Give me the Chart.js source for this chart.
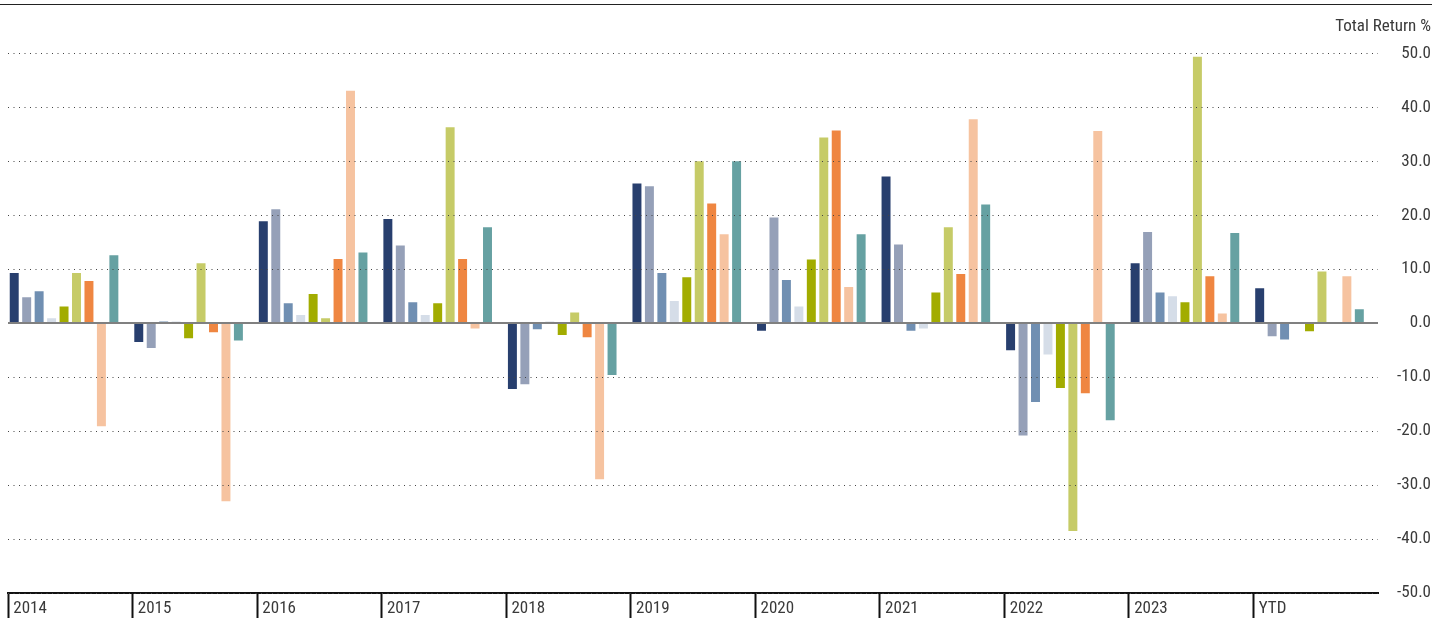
<!DOCTYPE html>
<html>
<head>
<meta charset="utf-8">
<script src="https://cdn.jsdelivr.net/npm/chart.js@4"></script>
<style>
    body { margin: 0; background: #fff; }
    #wrap { position: relative; width: 1447px; height: 618px; }
    #topRule { position: absolute; left: 0; top: 4px; width: 1432px; height: 1px; background: #222; }
    canvas { position: absolute; left: 0; top: 0; }
</style>
</head>
<body>
<div id="wrap">
    <div id="topRule"></div>
    <canvas id="mainChart" width="1447" height="618"></canvas>
</div>
<script>
    const categories = ['2014', '2015', '2016', '2017', '2018', '2019', '2020', '2021', '2022', '2023', 'YTD'];
    const yTicks = [-50, -40, -30, -20, -10, 0, 10, 20, 30, 40, 50];

    const navy   = [9.3, -3.5, 18.9, 19.3, -12.2, 25.9, -1.4, 27.2, -5.0, 11.1, 6.5];
    const slate  = [4.8, -4.6, 21.1, 14.4, -11.3, 25.4, 19.6, 14.6, -20.8, 16.9, -2.4];
    const steel  = [5.9, 0.3, 3.7, 3.9, -1.1, 9.3, 8.0, -1.4, -14.6, 5.7, -3.0];
    const mist   = [0.9, 0.3, 1.5, 1.5, 0.3, 4.1, 3.1, -1.0, -5.8, 5.0, -0.1];
    const olive  = [3.1, -2.8, 5.4, 3.7, -2.2, 8.5, 11.8, 5.7, -12.0, 3.9, -1.5];
    const lime   = [9.3, 11.1, 0.9, 36.3, 2.0, 30.0, 34.4, 17.8, -38.5, 49.4, 9.6];
    const orange = [7.8, -1.7, 11.9, 11.9, -2.6, 22.2, 35.7, 9.1, -13.0, 8.7, 0.1];
    const peach  = [-19.1, -33.0, 43.1, -1.0, -28.9, 16.5, 6.7, 37.8, 35.6, 1.8, 8.7];
    const teal   = [12.6, -3.2, 13.1, 17.8, -9.6, 30.0, 16.5, 22.0, -18.0, 16.7, 2.6];

    const series = [
        { data: navy,   color: '#283F6E' },
        { data: slate,  color: '#95A0B8' },
        { data: steel,  color: '#708FB2' },
        { data: mist,   color: '#D5DDE8' },
        { data: olive,  color: '#A2AC00' },
        { data: lime,   color: '#C6CB67' },
        { data: orange, color: '#EF8641' },
        { data: peach,  color: '#F6C3A0' },
        { data: teal,   color: '#66A1A2' }
    ];

    const FONT = "'Liberation Sans Narrow', 'Roboto Condensed', 'DejaVu Sans Condensed', sans-serif";

    // solid zero line drawn over the bars
    const zeroLine = {
        id: 'zeroLine',
        afterDatasetsDraw(chart) {
            const { ctx, chartArea, scales } = chart;
            const py = Math.round(scales.y.getPixelForValue(0));
            ctx.save();
            ctx.strokeStyle = '#808080';
            ctx.lineWidth = 2;
            ctx.beginPath();
            ctx.moveTo(chartArea.left, py);
            ctx.lineTo(chartArea.right, py);
            ctx.stroke();
            ctx.restore();
        }
    };

    const datasets = series.map((s, i) => ({
        label: 'Series ' + (i + 1),
        data: s.data,
        backgroundColor: s.color,
        borderWidth: 0,
        barPercentage: 0.72,
        categoryPercentage: 1
    }));
    // empty slot so each group sits at the left of its year
    datasets.push({ label: '', data: [], barPercentage: 0.72, categoryPercentage: 1 });

    new Chart(document.getElementById('mainChart').getContext('2d'), {
        type: 'bar',
        data: { labels: categories, datasets },
        plugins: [zeroLine],
        options: {
            responsive: false,
            animation: false,
            layout: { padding: { left: 8, right: 16, top: 0, bottom: 0 } },
            plugins: {
                legend: { display: false },
                tooltip: { enabled: false },
                title: {
                    display: true,
                    text: 'Total Return %',
                    align: 'end',
                    color: '#3a3a3a',
                    font: { family: FONT, size: 17, weight: 'normal' },
                    padding: { top: 17, bottom: 16 }
                }
            },
            scales: {
                x: {
                    position: 'bottom',
                    grid: {
                        offset: true,
                        drawOnChartArea: false,
                        drawTicks: true,
                        tickLength: 25,
                        tickWidth: 2,
                        tickColor: ctx => ctx.type === 'tick' ? '#111' : 'rgba(0,0,0,0)',
                        color: ctx => ctx.type === 'tick' ? '#111' : 'rgba(0,0,0,0)'
                    },
                    border: { display: true, color: '#111', width: 2 },
                    ticks: {
                        align: 'start',
                        labelOffset: -57,
                        padding: -19,
                        maxRotation: 0,
                        autoSkip: false,
                        color: '#3a3a3a',
                        font: { family: FONT, size: 17 }
                    },
                    afterFit(scale) {
                        scale.height = 25;
                        scale.paddingLeft = 0;
                        scale.paddingRight = 0;
                    }
                },
                y: {
                    position: 'right',
                    min: -50,
                    max: 50,
                    afterBuildTicks(scale) { scale.ticks = yTicks.map(v => ({ value: v })); },
                    grid: {
                        drawTicks: false,
                        lineWidth: 1,
                        color: ctx => ctx.tick && ctx.tick.value === 0 ? 'rgba(0,0,0,0)' : '#444',
                        z: 1
                    },
                    border: { display: false, dash: [1, 4.5] },
                    ticks: {
                        crossAlign: 'far',
                        padding: 20,
                        color: '#3a3a3a',
                        font: { family: FONT, size: 17 },
                        callback: v => v.toFixed(1)
                    },
                    afterFit(scale) {
                        scale.width = 53;
                        scale.paddingTop = 0;
                        scale.paddingBottom = 0;
                    }
                }
            }
        }
    });
</script>
</body>
</html>
